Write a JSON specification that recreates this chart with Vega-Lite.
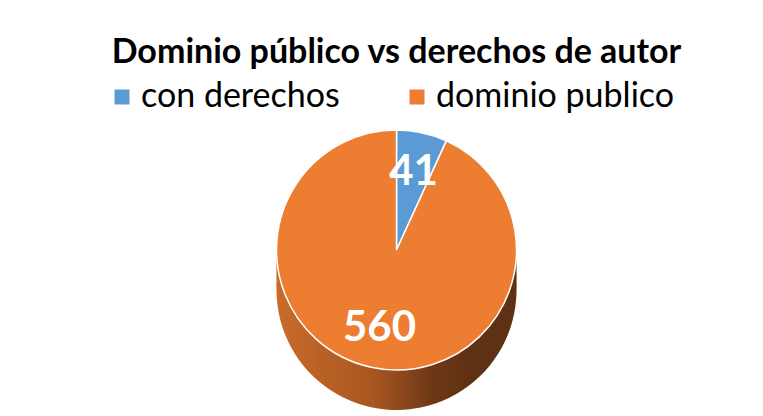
{
  "$schema": "https://vega.github.io/schema/vega-lite/v6.json",
  "width": 733,
  "height": 260,
  "autosize": {"type": "none"},
  "padding": {"top": 120, "left": 30, "right": 0, "bottom": 36},
  "background": "white",
  "title": {
    "text": "Dominio público vs derechos de autor",
    "font": "Lato",
    "fontSize": 34,
    "fontWeight": "bold",
    "color": "#000000",
    "anchor": "middle",
    "offset": 10
  },
  "data": {
    "values": [
      {"categoria": "con derechos", "valor": 41},
      {"categoria": "dominio publico", "valor": 560}
    ]
  },
  "config": {
    "view": {"stroke": null},
    "legend": {
      "orient": "none",
      "legendX": 75,
      "legendY": -40,
      "direction": "horizontal",
      "title": null,
      "padding": 0,
      "labelFont": "Lato",
      "labelFontSize": 34,
      "labelColor": "#000000",
      "symbolType": "square",
      "symbolSize": 225,
      "symbolStrokeWidth": 0,
      "labelOffset": 2,
      "columnPadding": 60,
      "labelLimit": 400
    }
  },
  "encoding": {
    "theta": {"field": "valor", "type": "quantitative", "stack": true},
    "order": {"field": "categoria", "type": "nominal"}
  },
  "layer": [
    {
      "mark": {"type": "arc", "radius": 120, "yOffset": 40, "strokeWidth": 0,
        "fill": {"gradient": "linear", "x1": 0, "y1": 0, "x2": 1, "y2": 0,
          "stops": [{"offset": 0, "color": "#c96b2a"}, {"offset": 0.4, "color": "#a85720"}, {"offset": 0.65, "color": "#6e3816"}, {"offset": 0.8, "color": "#5e3114"}, {"offset": 1, "color": "#5e3114"}]}}
    },
    {
      "mark": {"type": "arc", "radius": 120, "yOffset": 30, "strokeWidth": 0,
        "fill": {"gradient": "linear", "x1": 0, "y1": 0, "x2": 1, "y2": 0,
          "stops": [{"offset": 0, "color": "#c96b2a"}, {"offset": 0.4, "color": "#a85720"}, {"offset": 0.65, "color": "#6e3816"}, {"offset": 0.8, "color": "#5e3114"}, {"offset": 1, "color": "#5e3114"}]}}
    },
    {
      "mark": {"type": "arc", "radius": 120, "yOffset": 20, "strokeWidth": 0,
        "fill": {"gradient": "linear", "x1": 0, "y1": 0, "x2": 1, "y2": 0,
          "stops": [{"offset": 0, "color": "#c96b2a"}, {"offset": 0.4, "color": "#a85720"}, {"offset": 0.65, "color": "#6e3816"}, {"offset": 0.8, "color": "#5e3114"}, {"offset": 1, "color": "#5e3114"}]}}
    },
    {
      "mark": {"type": "arc", "radius": 120, "yOffset": 10, "strokeWidth": 0,
        "fill": {"gradient": "linear", "x1": 0, "y1": 0, "x2": 1, "y2": 0,
          "stops": [{"offset": 0, "color": "#c96b2a"}, {"offset": 0.4, "color": "#a85720"}, {"offset": 0.65, "color": "#6e3816"}, {"offset": 0.8, "color": "#5e3114"}, {"offset": 1, "color": "#5e3114"}]}}
    },
    {
      "mark": {"type": "arc", "radius": 120, "stroke": "#ffffff", "strokeWidth": 1.5},
      "encoding": {
        "color": {
          "field": "categoria",
          "type": "nominal",
          "scale": {"domain": ["con derechos", "dominio publico"], "range": ["#5B9BD5", "#ED7D31"]}
        }
      }
    },
    {
      "mark": {"type": "text", "radius": 80, "font": "Lato", "fontSize": 42, "fontWeight": "bold", "color": "#ffffff"},
      "encoding": {
        "text": {"field": "valor", "type": "quantitative"}
      }
    }
  ]
}
